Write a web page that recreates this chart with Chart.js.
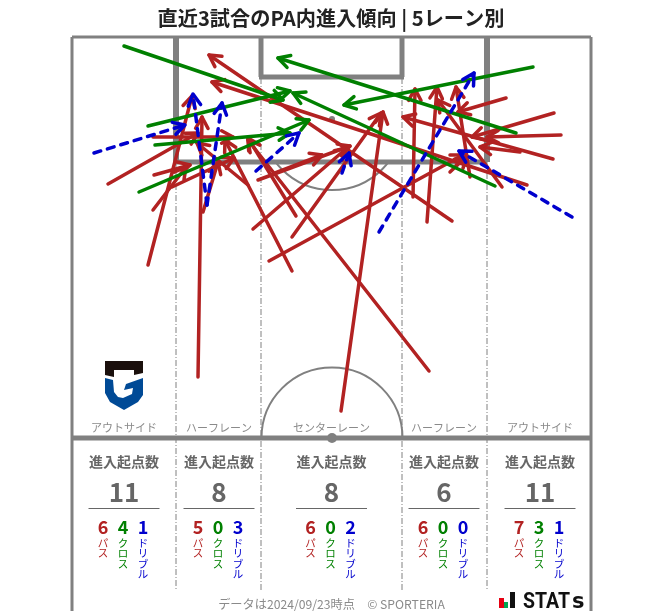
<!DOCTYPE html>
<html>
<head>
<meta charset="utf-8">
<script src="https://cdn.jsdelivr.net/npm/chart.js@4/dist/chart.umd.min.js"></script>
<style>
  html, body { margin: 0; padding: 0; background: #fff; }
  canvas { display: block; }
</style>
</head>
<body>
<canvas id="chart" width="663" height="611"></canvas>
<script>
// pitch units: x from the left touchline, y from the goal line (1 unit = 1 px)
const passFrom = [[77,227],[37,146],[82,172],[82,99],[83,137],[101,149],[127,339],[132,174],[177,147],[187,142],[182,191],[221,233],[225,178],[270,373],[221,199],[198,223],[204,135],[381,183],[358,333],[342,159],[356,184],[399,139],[379,134],[456,147],[435,60],[483,75],[490,97],[482,121],[449,114],[431,149]];
const passTo = [[121,58],[127,95],[115,129],[162,99],[119,127],[163,120],[131,79],[147,124],[126,105],[279,108],[276,110],[154,102],[177,100],[312,74],[310,75],[392,117],[251,117],[138,17],[177,102],[344,51],[366,49],[385,49],[396,118],[141,44],[387,74],[401,99],[416,99],[332,79],[409,109],[367,62]];
const crossFrom = [[53,8],[77,88],[84,107],[68,154],[462,29],[445,95],[424,148]];
const crossTo = [[212,62],[219,53],[219,95],[238,82],[273,67],[207,20],[222,55]];
const dribbleFrom = [[23,115],[136,167],[136,167],[185,133],[271,135],[308,194],[501,179]];
const dribbleTo = [[114,87],[122,56],[151,65],[228,95],[278,115],[403,35],[388,113]];

const laneNames = ['アウトサイド', 'ハーフレーン', 'センターレーン', 'ハーフレーン', 'アウトサイド'];
const laneTotals = [11, 8, 8, 6, 11];
const lanePasses = [6, 5, 6, 6, 7];
const laneCrosses = [4, 0, 0, 0, 3];
const laneDribbles = [1, 3, 2, 0, 1];

const RED = '#b22222', GREEN = '#008000', BLUE = '#0000cd', LINE = '#808080';
const JP = '"Noto Sans CJK JP"';

function arrowSets(from, to, color, order, dash, width) {
  return from.map((p, i) => ({
    data: [{ x: p[0], y: p[1] }, { x: to[i][0], y: to[i][1] }],
    showLine: true,
    borderColor: color,
    borderWidth: width,
    borderCapStyle: 'round',
    borderDash: dash,
    pointRadius: 0,
    order: order,
    clip: false
  }));
}

// open arrow head at the end of every dataset, so stacking follows dataset order
const arrowHeads = {
  id: 'arrowHeads',
  afterDatasetDraw(chart, args) {
    const pts = chart.getDatasetMeta(args.index).data;
    const ds = chart.data.datasets[args.index];
    const a = Math.atan2(pts[1].y - pts[0].y, pts[1].x - pts[0].x);
    const c = chart.ctx;
    c.save();
    c.strokeStyle = ds.borderColor;
    c.lineWidth = ds.borderWidth;
    c.lineCap = 'round';
    c.lineJoin = 'round';
    c.setLineDash([]);
    c.beginPath();
    c.moveTo(pts[1].x - 13 * Math.cos(a - 0.5), pts[1].y - 13 * Math.sin(a - 0.5));
    c.lineTo(pts[1].x, pts[1].y);
    c.lineTo(pts[1].x - 13 * Math.cos(a + 0.5), pts[1].y - 13 * Math.sin(a + 0.5));
    c.stroke();
    c.restore();
  }
};

function fillPoly(c, color, pts) {
  c.fillStyle = color;
  c.beginPath();
  pts.forEach(p => c.lineTo(p[0], p[1]));
  c.closePath();
  c.fill();
}

function drawLogo(c) {
  fillPoly(c, '#1a0f0c', [[105,361],[143,361],[143,373],[134,375],[134,370],[114,370],[114,377],[105,375]]);
  fillPoly(c, '#004a96', [[105,378],[113,380],[114,392],[118,397],[123,398],[132,394],[133,388],[124,390],[126,384],[143,378],[143,395],[138,402],[124,410],[110,402],[105,393]]);
}

function drawStats(c) {
  c.fillStyle = '#e60012'; c.fillRect(499, 598, 5, 10);
  c.fillStyle = '#00a651'; c.fillRect(504, 602, 4, 6);
  c.fillStyle = '#111'; c.fillRect(510, 592, 5, 16);
  c.textAlign = 'left';
  c.textBaseline = 'alphabetic';
  c.font = 'bold 22px Roboto';
  c.fillText('STAT', 523, 608, 47);
  c.font = 'bold 21px "DejaVu Sans"';
  c.fillText('s', 572, 608);
}

const pitch = {
  id: 'pitch',
  beforeDatasetsDraw(chart) {
    const c = chart.ctx;
    const X = v => chart.scales.x.getPixelForValue(v);
    const Y = v => chart.scales.y.getPixelForValue(v);
    const seg = (x0, y0, x1, y1) => { c.beginPath(); c.moveTo(X(x0), Y(y0)); c.lineTo(X(x1), Y(y1)); c.stroke(); };
    c.save();
    c.strokeStyle = LINE;

    // lane dividers
    c.lineWidth = 1;
    c.setLineDash([6, 2, 1, 2]);
    [[105, 124], [190, 40], [331, 40], [416, 124]].forEach(l => seg(l[0], l[1], l[0], 552));
    c.setLineDash([]);

    // penalty arc and centre circle
    c.lineWidth = 2;
    c.save();
    c.beginPath();
    c.rect(X(105), Y(124), X(416) - X(105), 80);
    c.clip();
    c.beginPath();
    c.arc(X(261), Y(81), 71, 0, Math.PI * 2);
    c.stroke();
    c.restore();
    c.beginPath();
    c.arc(X(261), Y(400), 70.5, Math.PI, Math.PI * 2);
    c.stroke();

    // outer frame
    c.lineWidth = 3;
    seg(1, -1, 520, -1);
    seg(1, -1, 1, 573);
    seg(520, -1, 520, 573);

    // boxes
    c.lineWidth = 6;
    c.lineCap = 'butt';
    seg(105, 0, 105, 124);
    seg(416, 0, 416, 124);
    c.lineWidth = 5;
    seg(105, 124, 416, 124);
    seg(190, 0, 190, 39);
    seg(331, 0, 331, 39);
    seg(188, 39, 333, 39);
    seg(1, 400, 520, 400);

    c.fillStyle = LINE;
    c.beginPath(); c.arc(X(261), Y(81), 3, 0, Math.PI * 2); c.fill();
    c.beginPath(); c.arc(X(261), Y(400), 5, 0, Math.PI * 2); c.fill();

    // lane panels
    const centers = [53, 148, 260.5, 373, 469];
    c.textAlign = 'center';
    c.textBaseline = 'middle';
    centers.forEach((lx, i) => {
      const px = X(lx);
      c.fillStyle = '#8a8a8a';
      c.font = '11px ' + JP;
      c.fillText(laneNames[i], px, Y(390));
      c.fillStyle = '#666';
      c.font = 'bold 14px ' + JP;
      c.fillText('進入起点数', px, Y(424));
      c.font = 'bold 26px ' + JP;
      c.fillText(String(laneTotals[i]), px, Y(454));
      c.strokeStyle = '#666';
      c.lineWidth = 1;
      c.beginPath(); c.moveTo(px - 35.5, Y(470.5)); c.lineTo(px + 35.5, Y(470.5)); c.stroke();

      [[lanePasses, 'パス', RED, -20], [laneCrosses, 'クロス', GREEN, 0], [laneDribbles, 'ドリブル', BLUE, 20]].forEach(k => {
        c.fillStyle = k[2];
        c.font = 'bold 18px ' + JP;
        c.fillText(String(k[0][i]), px + k[3] - 1, Y(489));
        c.font = '10.5px ' + JP;
        Array.from(k[1]).forEach((ch, n) => c.fillText(ch, px + k[3] - 1, Y(505 + n * 10.3)));
      });
    });

    // title and footer
    c.fillStyle = '#222';
    c.font = 'bold 20.2px ' + JP;
    c.fillText('直近3試合のPA内進入傾向 | 5レーン別', 331, 18);
    c.fillStyle = '#8a8a8a';
    c.font = '12.2px ' + JP;
    c.fillText('データは2024/09/23時点　© SPORTERIA', 331.5, 604);

    drawLogo(c);
    drawStats(c);
    c.restore();
  }
};

new Chart(document.getElementById('chart'), {
  type: 'scatter',
  data: {
    datasets: [
      ...arrowSets(dribbleFrom, dribbleTo, BLUE, 0, [7, 7], 3.5),
      ...arrowSets(crossFrom, crossTo, GREEN, 1, [], 3.5),
      ...arrowSets(passFrom, passTo, RED, 2, [], 3.5)
    ]
  },
  options: {
    responsive: false,
    animation: false,
    layout: { padding: { left: 71, right: 72, top: 38, bottom: 0 } },
    plugins: { legend: { display: false }, tooltip: { enabled: false } },
    scales: {
      x: { type: 'linear', min: 0, max: 520, display: false },
      y: { type: 'linear', min: 0, max: 573, reverse: true, display: false }
    }
  },
  plugins: [pitch, arrowHeads]
});
</script>
</body>
</html>
